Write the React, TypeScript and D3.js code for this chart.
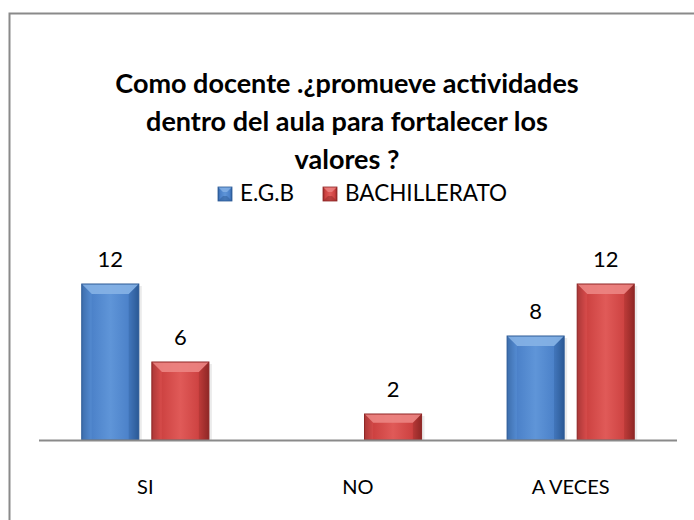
import * as React from "react";
import * as d3 from "d3";

const categories = ["SI", "NO", "A VECES"];
const seriesNames = ["E.G.B", "BACHILLERATO"];
const egb = [12, 0, 8];
const bachillerato = [6, 2, 12];
const titleLines = ["Como docente .¿promueve actividades", "dentro del aula para fortalecer los", "valores ?"];

const colors = [
  { light: "#5f95d8", mid: "#4a80c8", dark: "#2c5a96", top: "#86b2e6" },
  { light: "#e05a58", mid: "#cc4140", dark: "#8f2726", top: "#ec8583" },
];

const font = "Lato, 'Open Sans', sans-serif";

const Bar = ({ x, y, w, h, c, id }: any) => {
  if (h <= 0) return null;
  const b = Math.min(10, h / 3, w / 4);
  return (
    <g>
      <rect x={x + 3} y={y + 2} width={w} height={h - 2} fill="#000" opacity={0.08} />
      <rect x={x} y={y} width={w} height={h} fill={`url(#g${id})`} />
      <polygon points={`${x},${y} ${x + w},${y} ${x + w - b},${y + b} ${x + b},${y + b}`} fill={c.top} opacity={0.9} />
      <polygon points={`${x},${y} ${x + b},${y + b} ${x + b},${y + h} ${x},${y + h}`} fill={c.light} opacity={0.35} />
      <polygon points={`${x + w},${y} ${x + w - b},${y + b} ${x + w - b},${y + h} ${x + w},${y + h}`} fill={c.dark} opacity={0.35} />
      <rect x={x} y={y} width={w} height={h} fill="none" stroke={c.dark} strokeWidth={1} />
    </g>
  );
};

const LegendKey = ({ x, y, s, c, id }: any) => {
  const b = s / 2 - 2;
  return (
    <g>
      <rect x={x} y={y} width={s} height={s} fill={`url(#g${id})`} />
      <polygon points={`${x},${y} ${x + s},${y} ${x + s - b},${y + b} ${x + b},${y + b}`} fill={c.top} opacity={0.8} />
      <polygon points={`${x},${y + s} ${x + s},${y + s} ${x + s - b},${y + s - b} ${x + b},${y + s - b}`} fill={c.dark} opacity={0.5} />
      <rect x={x} y={y} width={s} height={s} fill="none" stroke={c.dark} strokeWidth={0.8} />
    </g>
  );
};

export default function App() {
  const width = 694;
  const height = 520;
  const x0 = d3.scaleBand().domain(categories).range([39, 677]).paddingInner(0).paddingOuter(0);
  const x1 = d3.scaleBand().domain(seriesNames).range([0, x0.bandwidth()]).paddingInner(0.186).paddingOuter(0.61);
  const y = d3.scaleLinear().domain([0, 14]).range([440, 258]);
  const series = [egb, bachillerato];

  return (
    <svg width={width} height={height} style={{ position: "absolute", left: 0, top: 0, background: "#fff" }} fontFamily={font}>
      <defs>
        {colors.map((c, i) => (
          <linearGradient key={i} id={`g${i}`} x1="0" x2="1" y1="0" y2="0">
            <stop offset="0" stopColor={c.dark} />
            <stop offset="0.15" stopColor={c.mid} />
            <stop offset="0.5" stopColor={c.light} />
            <stop offset="0.85" stopColor={c.mid} />
            <stop offset="1" stopColor={c.dark} />
          </linearGradient>
        ))}
      </defs>
      <rect x={9.5} y={13.5} width={720} height={540} fill="#fff" stroke="#8a8a8a" strokeWidth={2} />
      {titleLines.map((t, i) => (
        <text key={i} x={347} y={93 + i * 38} textAnchor="middle" fontWeight="bold" fontSize={27} fill="#000">
          {t}
        </text>
      ))}
      {seriesNames.map((s, i) => {
        const lx = [218, 323][i];
        return (
          <g key={s}>
            <LegendKey x={lx} y={187} s={14} c={colors[i]} id={i} />
            <text x={lx + 22} y={201} fontSize={22.5} fill="#000">
              {s}
            </text>
          </g>
        );
      })}
      {categories.map((cat, ci) => (
        <g key={cat} transform={`translate(${x0(cat)},0)`}>
          {series.map((vals, si) => {
            const v = vals[ci];
            const bx = x1(seriesNames[si])!;
            const top = y(v);
            return (
              <g key={si}>
                <Bar x={bx} y={top} w={x1.bandwidth()} h={y(0) - top} c={colors[si]} id={si} />
                {v > 0 && (
                  <text x={bx + x1.bandwidth() / 2} y={top - 17} textAnchor="middle" fontSize={22} fill="#000">
                    {v}
                  </text>
                )}
              </g>
            );
          })}
          <text x={x0.bandwidth() / 2} y={494} textAnchor="middle" fontSize={20} fill="#000">
            {cat}
          </text>
        </g>
      ))}
      <line x1={39} x2={677} y1={440.5} y2={440.5} stroke="#8a8a8a" strokeWidth={2} />
    </svg>
  );
}
